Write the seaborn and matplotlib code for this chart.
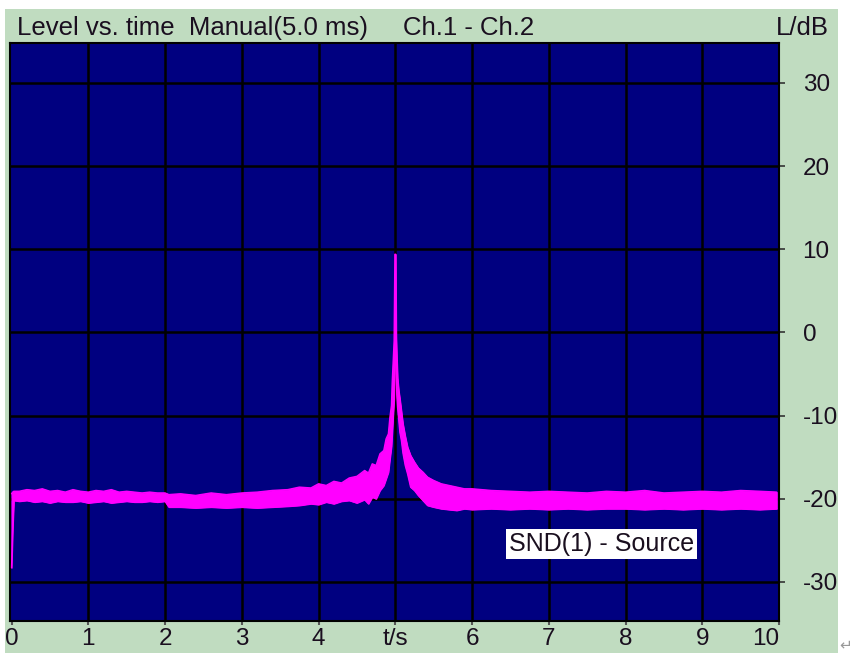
import numpy as np
import pandas as pd
import matplotlib.pyplot as plt
import seaborn as sns

sns.set_theme(style='dark')
plt.rcParams['font.family'] = ['Liberation Sans', 'DejaVu Sans']

# level vs. time: upper and lower edge of the noisy band
time_s = [0.00, 0.015, 0.03, 0.1, 0.2, 0.3, 0.4, 0.5, 0.6, 0.7, 0.8, 0.9, 1.0,
          1.1, 1.2, 1.3, 1.4, 1.5, 1.6, 1.7, 1.8, 1.9, 2.0,
          2.05, 2.2, 2.4, 2.6, 2.8, 3.0, 3.2, 3.4, 3.6, 3.75,
          3.9, 4.0, 4.1, 4.2, 4.3, 4.4, 4.5, 4.6, 4.65, 4.7,
          4.75, 4.8, 4.85, 4.88, 4.91, 4.93, 4.95, 4.96, 4.975, 4.985,
          4.995, 5.005, 5.012, 5.02, 5.03, 5.045, 5.06, 5.08, 5.1, 5.13,
          5.16, 5.2, 5.25, 5.3, 5.36, 5.42, 5.5, 5.6, 5.7, 5.8,
          5.9, 6.0,
          6.25, 6.5, 6.75, 7.0, 7.25, 7.5, 7.75, 8.0, 8.25, 8.5, 8.75, 9.0,
          9.25, 9.5, 9.75, 9.97]
upper_db = [-19.4, -19.2, -19.1, -19.1, -18.9, -19.0, -18.8, -19.1, -19.0, -19.2, -18.9, -19.1, -19.2,
            -19.0, -19.1, -18.9, -19.2, -19.1, -19.2, -19.3, -19.2, -19.3, -19.3,
            -19.5, -19.4, -19.6, -19.3, -19.5, -19.3, -19.2, -19.0, -18.9, -18.6,
            -18.7, -18.2, -18.4, -17.9, -18.1, -17.5, -17.3, -16.6, -16.9, -15.8,
            -16.0, -14.6, -14.2, -12.8, -12.2, -10.2, -8.8, -6.0, -3.0, -1.0,
            9.4, 9.4, -0.5, -3.0, -5.5, -7.0, -8.0, -9.5, -11.0, -12.5,
            -13.8, -14.8, -15.6, -16.3, -16.8, -17.4, -17.8, -18.2, -18.4, -18.6,
            -18.8, -18.8,
            -19.0, -19.1, -19.2, -19.1, -19.2, -19.3, -19.1, -19.2, -19.0, -19.3, -19.2, -19.1,
            -19.2, -19.0, -19.1, -19.2]
lower_db = [-28.3, -23.6, -20.2, -20.3, -20.2, -20.4, -20.3, -20.5, -20.3, -20.4, -20.4, -20.3, -20.5,
            -20.4, -20.3, -20.5, -20.4, -20.3, -20.4, -20.4, -20.3, -20.4, -20.3,
            -21.0, -21.0, -21.1, -21.0, -21.1, -21.0, -21.1, -21.0, -20.9, -20.8,
            -20.6, -20.7, -20.4, -20.6, -20.3, -20.2, -20.5, -20.1, -20.6, -19.8,
            -20.0, -19.0, -18.4, -17.6, -16.8, -15.2, -13.7, -12.0, -9.5, -8.0,
            -2.0, -0.5, -5.0, -7.5, -9.0, -10.5, -12.0, -13.0, -14.5, -16.0,
            -17.0, -18.6, -19.0, -19.6, -20.2, -20.8, -21.0, -21.2, -21.3, -21.4,
            -21.2, -21.3,
            -21.2, -21.3, -21.2, -21.3, -21.2, -21.3, -21.2, -21.2, -21.3, -21.2, -21.3, -21.2,
            -21.3, -21.2, -21.3, -21.2]

x_ticks = [0, 1, 2, 3, 4, 5, 6, 7, 8, 9, 10]
x_labels = ['0', '1', '2', '3', '4', 't/s', '6', '7', '8', '9', '10']
y_ticks = [-30, -20, -10, 0, 10, 20, 30]

df = pd.DataFrame({'t': time_s, 'hi': upper_db, 'lo': lower_db})

W, H = 855, 653
fig = plt.figure(figsize=(W / 100, H / 100), dpi=100)
fig.patch.set_facecolor('white')

# green panel behind everything
panel = plt.Rectangle((5 / W, 0), 833 / W, 1 - 9 / H, transform=fig.transFigure,
                      facecolor='#c0dcc0', edgecolor='none', zorder=-10)
fig.patches.append(panel)

ax = fig.add_axes([10 / W, 1 - 621 / H, 769 / W, 578 / H])
ax.set_zorder(1)
ax.set_facecolor('#000080')

ax.fill_between(df['t'], df['lo'], df['hi'], color='#ff00ff', linewidth=0.8,
                edgecolor='#ff00ff', zorder=3)
sns.lineplot(data=df, x='t', y='hi', ax=ax, color='#ff00ff', linewidth=1.0, zorder=3)
sns.lineplot(data=df, x='t', y='lo', ax=ax, color='#ff00ff', linewidth=1.0, zorder=3)

ax.set_xlim(-0.02, 9.97)
ax.set_ylim(-34.7, 34.8)

for xv in x_ticks[1:-1]:
    ax.axvline(xv, color='black', linewidth=1.8, zorder=2)
for yv in y_ticks:
    ax.axhline(yv, color='black', linewidth=1.8, zorder=2)
ax.grid(False)

ax.set_xticks(x_ticks)
ax.set_xticklabels(x_labels)
ax.set_yticks(y_ticks)
ax.set_yticklabels([str(v) for v in y_ticks])
ax.yaxis.tick_right()
ax.tick_params(axis='x', direction='out', length=3, width=1.5, color='#555555',
               labelsize=17.5, labelcolor='#1a0f1f', pad=2, bottom=True)
ax.tick_params(axis='y', direction='out', length=4, width=1.2, color='#333333',
               labelsize=17.5, labelcolor='#1a0f1f', pad=13, right=True, left=False)
ax.get_xticklabels()[-1].set_horizontalalignment('right')
ax.set_xlabel('')
ax.set_ylabel('')

for s in ax.spines.values():
    s.set_visible(True)
    s.set_color('black')
    s.set_linewidth(1.5)

ax.text(7.69, -25.4, 'SND(1) - Source', fontsize=18, color='#1a0f1f',
        ha='center', va='center', zorder=5,
        bbox=dict(boxstyle='square,pad=0.12', facecolor='white', edgecolor='none'))

fig.text(17 / W, 1 - 28 / H, 'Level vs. time  Manual(5.0 ms)', fontsize=18.5,
         color='#1a0f1f', ha='left', va='center')
fig.text(403 / W, 1 - 28 / H, 'Ch.1 - Ch.2', fontsize=18.5,
         color='#1a0f1f', ha='left', va='center')
fig.text(829 / W, 1 - 28 / H, 'L/dB', fontsize=18.5,
         color='#1a0f1f', ha='right', va='center')
fig.text(846 / W, 1 - 645 / H, '\u21b5', fontsize=11, color='#999999',
         ha='center', va='center', family=['DejaVu Sans'])

fig.savefig('out.png', dpi=100)
